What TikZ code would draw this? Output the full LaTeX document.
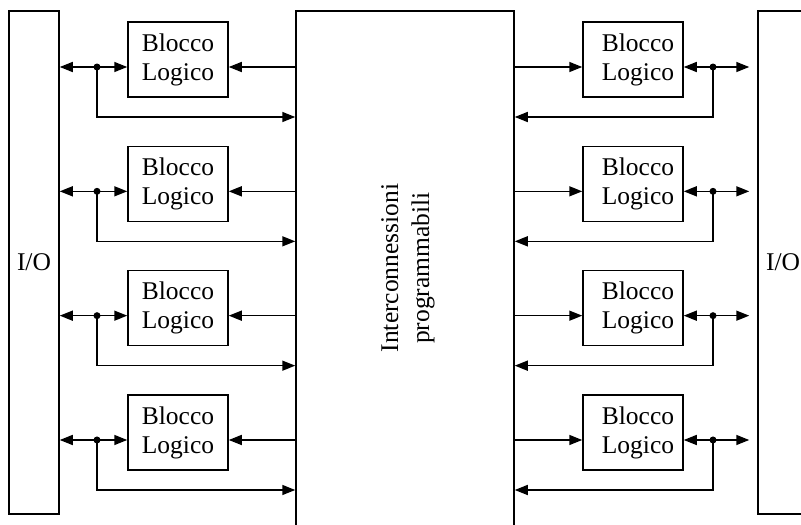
\documentclass[tikz,border=0pt]{standalone}
\usepackage{fontspec}
\setmainfont{Liberation Serif}
\usetikzlibrary{arrows.meta}
\begin{document}
\begin{tikzpicture}[x=1pt,y=-1pt,
  wire/.style={line width=1.5pt},
  tip/.style={-{Triangle[length=13pt,width=10pt]}},
  txt/.style={font=\fontsize{25.5}{29}\selectfont},
  blocco/.style={draw,line width=1.5pt,minimum width=100pt,minimum height=75pt,
    inner sep=0pt,align=center,txt},
  iobox/.style={draw,line width=1.5pt,minimum width=50pt,minimum height=503pt,
    inner sep=0pt,txt},
  junction/.style={circle,fill,inner sep=0pt,minimum size=7pt}]
\clip (0,0) rectangle (801,525);

% I/O columns and the interconnect matrix
\node[iobox] (ioL) at (34,262.5) {I/O};
\node[iobox] (ioR) at (783,262.5) {I/O};
\node[draw,line width=1.5pt,minimum width=218pt,minimum height=519pt,inner sep=0pt]
  (ic) at (405,270.5) {};
\node[rotate=90,align=center,font=\fontsize{25.5}{31}\selectfont] (icl) at (408,268)
  {Interconnessioni\\programmabili};

\foreach \k in {1,...,4} {
  \pgfmathsetmacro\a{67+124.33*(\k-1)}
  % logic blocks
  \node[blocco] (bL\k) at (178,\a-7.5) {Blocco\\Logico};
  \node[blocco] (bR\k) at (633,\a-7.5) {\hspace*{10pt}Blocco\\\hspace*{10pt}Logico};
  % branch points and feedback corners
  \coordinate (jL\k) at (97,\a);
  \coordinate (jR\k) at (713,\a);
  \coordinate (fL\k) at (97,\a+50);
  \coordinate (fR\k) at (713,\a+50);
  % left side
  \draw[wire,tip] (jL\k) -- (ioL.east |- jL\k);
  \draw[wire,tip] (jL\k) -- (bL\k.west |- jL\k);
  \draw[wire,tip] (ic.west |- jL\k) -- (bL\k.east |- jL\k);
  \draw[wire,tip] (jL\k) -- (fL\k) -- (ic.west |- fL\k);
  % right side
  \draw[wire,tip] (ic.east |- jR\k) -- (bR\k.west |- jR\k);
  \draw[wire,tip] (jR\k) -- (bR\k.east |- jR\k);
  \draw[wire,tip,shorten >=8pt] (jR\k) -- (ioR.west |- jR\k);
  \draw[wire,tip] (jR\k) -- (fR\k) -- (ic.east |- fR\k);
  \node[junction] (dL\k) at (jL\k) {};
  \node[junction] (dR\k) at (jR\k) {};
}
\end{tikzpicture}
\end{document}
